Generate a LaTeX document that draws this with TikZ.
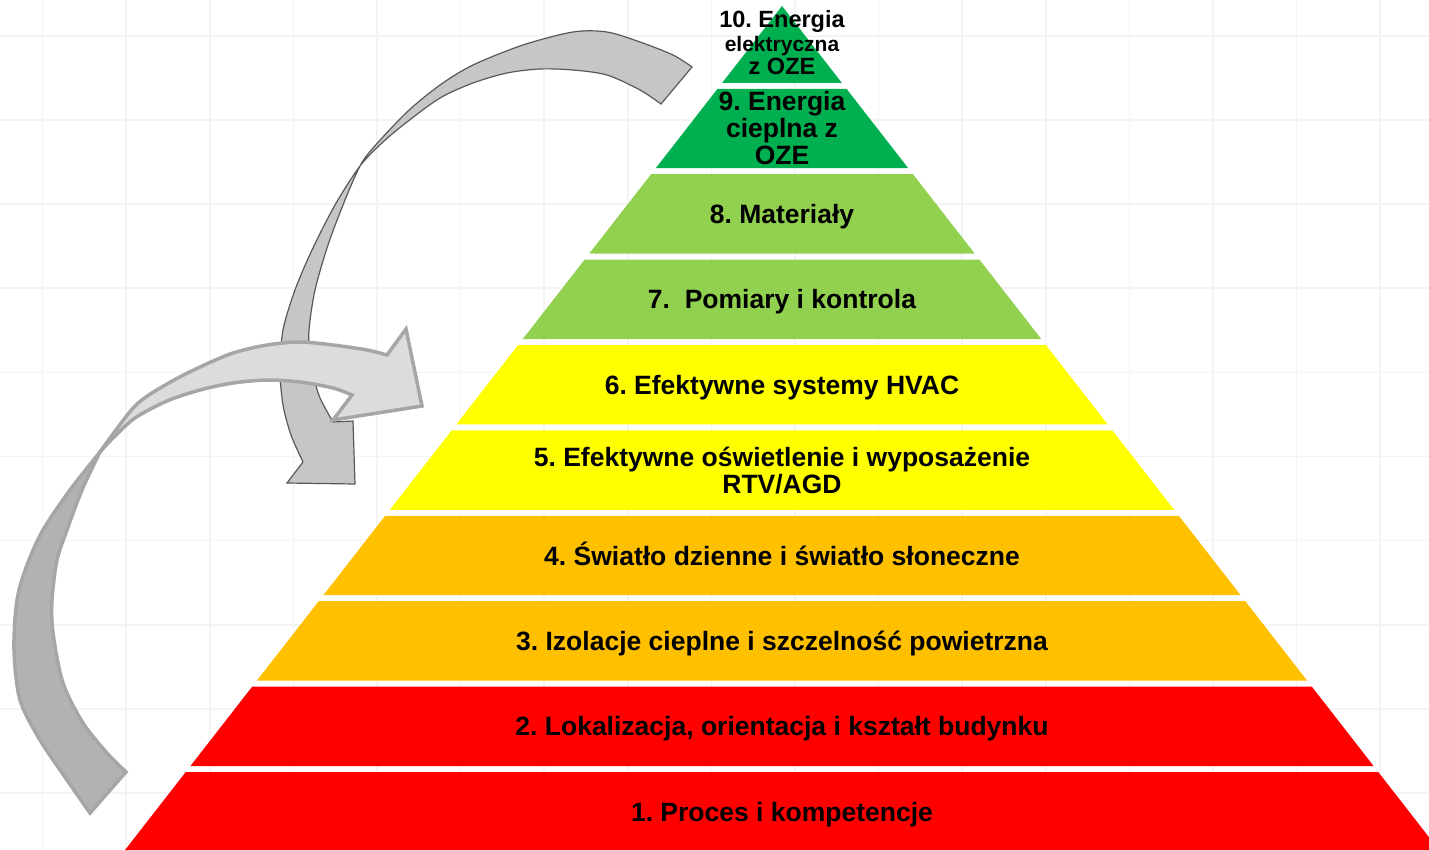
\documentclass[tikz,border=0pt]{standalone}
\usepackage{fontspec}
\setmainfont{Liberation Sans}
\usepackage{tikz}
\usepackage{xcolor}

\definecolor{rosso}{HTML}{FF0000}
\definecolor{arancio}{HTML}{FFC000}
\definecolor{giallo}{HTML}{FFFF00}
\definecolor{verdechiaro}{HTML}{92D050}
\definecolor{verdescuro}{HTML}{00B050}
\definecolor{griglia}{HTML}{F4F4F4}
\definecolor{grigioA}{HTML}{C6C6C6}
\definecolor{bordoA}{HTML}{595959}
\definecolor{grigioB}{HTML}{B2B2B2}
\definecolor{grigioBchiaro}{HTML}{DCDCDC}
\definecolor{bordoB}{HTML}{A6A6A6}

\begin{document}
\frenchspacing
\begin{tikzpicture}[x=1pt, y=-1pt,
		etichetta/.style={font=\bfseries\fontsize{26.5}{27}\selectfont, align=center, inner sep=0pt},
		riga/.style={text height=19pt, text depth=0pt},
		frecciaA/.style={draw=bordoA, line width=1.2pt, fill=grigioA},
		frecciaB/.style={draw=bordoB, line width=3.5pt}]
			
			% Sfondo bianco con la griglia chiara
			\useasboundingbox (0,0) rectangle (1429,850);
			\fill[white] (0,0) rectangle (1429,850);
			\foreach \gx in {0,...,16}
				\draw[griglia, line width=1.6pt] (42.5+83.6*\gx,0) -- (42.5+83.6*\gx,850);
			\foreach \gy in {0,...,9}
				\draw[griglia, line width=1.6pt] (0,36+84.1*\gy) -- (1429,36+84.1*\gy);
			
			% Disegnare i dieci livelli della piramide (vertice in (782,6))
			\foreach \k/\col in {1/rosso,2/rosso,3/arancio,4/arancio,5/giallo,6/giallo,7/verdechiaro,8/verdechiaro,9/verdescuro,10/verdescuro}{
				\pgfmathsetmacro{\ya}{max(772-85.4*(\k-1),6)}
				\pgfmathsetmacro{\yb}{772-85.4*(\k-1)+79.4}
				\pgfmathsetmacro{\da}{0.7784*(\ya-6)}
				\pgfmathsetmacro{\db}{0.7784*(\yb-6)}
				\fill[\col] (782-\da,\ya) -- (782+\da,\ya) -- (782+\db,\yb) -- (782-\db,\yb) -- cycle;
			}
			
			% Freccia scura: dal vertice verso il livello 5
			\filldraw[frecciaA] plot[smooth] coordinates {(692,67) (673,55) (640,42) (607,32) (573,32) (523,45) (473,65) (440,85) (407,112) (373,148) (360,166) (345,200) (328,245) (315,290) (309,330) (310,355) (314,378) (320,398) (333,422)}
				-- (353,421) -- (355,484) -- (287,483) -- (303,462)
				-- plot[smooth] coordinates {(303,462) (291,435) (283,405) (280,370) (283,330) (295,290) (312,250) (335,205) (360,166) (383,142) (407,122) (440,98) (473,83) (507,73) (540,69) (573,70) (607,75) (640,90) (661,104)}
				-- cycle;
			
			% Freccia chiara: dalla base verso il livello 6 (coda e punta)
			\filldraw[frecciaB, fill=grigioB] plot[smooth] coordinates {(90,813) (67,780) (40,740) (20,700) (14,650) (17,600) (27,565) (43,530) (70,490) (100,452)}
				-- plot[smooth] coordinates {(100,452) (82,490) (67,530) (57,560) (52,600) (53,633) (63,683) (83,723) (107,753) (126,772)}
				-- cycle;
			\filldraw[frecciaB, fill=grigioBchiaro] plot[smooth] coordinates {(100,452) (113,438) (135,418) (167,401) (200,390) (233,383) (267,380) (300,382) (333,388) (352,395)}
				-- (333,420) -- (422,406) -- (406,329) -- (387,355)
				-- plot[smooth] coordinates {(387,355) (367,350) (333,345) (300,342) (267,345) (233,353) (200,367) (167,384) (135,406) (100,452)}
				-- cycle;
			
			% Etichette dei livelli
			\node[etichetta, riga] (s1) at (782,811.7) {1. Proces i kompetencje};
			\node[etichetta, riga] (s2) at (782,726.3) {2. Lokalizacja, orientacja i kształt budynku};
			\node[etichetta, riga] (s3) at (782,640.9) {3. Izolacje cieplne i szczelność powietrzna};
			\node[etichetta, riga] (s4) at (782,555.5) {4. Światło dzienne i światło słoneczne};
			\node[etichetta] (s5) at (782,470.1) {5. Efektywne oświetlenie i wyposażenie\\RTV/AGD};
			\node[etichetta, riga] (s6) at (782,384.7) {6. Efektywne systemy HVAC};
			\node[etichetta, riga] (s7) at (782,299.3) {7.~ Pomiary i kontrola};
			\node[etichetta, riga] (s8) at (782,213.9) {8. Materiały};
			\node[etichetta] (s9) at (782,128.5) {9. Energia\\cieplna z\\OZE};
			\node[etichetta, font=\bfseries\fontsize{23.5}{23.5}\selectfont] (s10) at (782,43) {10. Energia\\{\fontsize{21}{23.5}\selectfont elektryczna}\\z OZE};
			
		\end{tikzpicture}
\end{document}
